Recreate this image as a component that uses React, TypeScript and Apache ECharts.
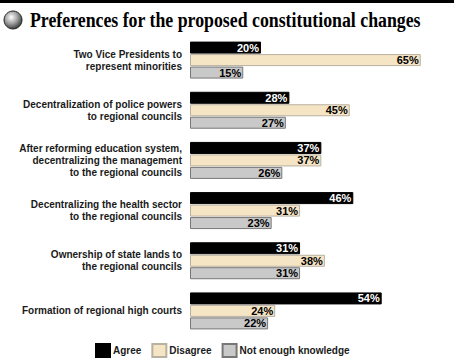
import React, { useEffect, useRef } from "react";
import * as echarts from "echarts";

const categories = [
  "Two Vice Presidents to\nrepresent minorities",
  "Decentralization of police powers\nto regional councils",
  "After reforming education system,\ndecentralizing the management\nto the regional councils",
  "Decentralizing the health sector\nto the regional councils",
  "Ownership of state lands to\nthe regional councils",
  "Formation of regional high courts",
];
const agree = [20, 28, 37, 46, 31, 54];
const disagree = [65, 45, 37, 31, 38, 24];
const notEnough = [15, 27, 26, 23, 31, 22];
const seriesNames = ["Agree", "Disagree", "Not enough knowledge"];
const titleText = "Preferences for the proposed constitutional changes";

export default function App() {
  const ref = useRef<HTMLDivElement>(null);
  useEffect(() => {
    const chart = echarts.init(ref.current!, null, { renderer: "svg" });
    const sans = "Liberation Sans, Arial, sans-serif";
    const mk = (name: string, data: number[], color: string, border: string, labelColor: string) => ({
      name,
      type: "bar",
      data,
      barWidth: 12,
      barGap: "4%",
      itemStyle: { color, borderColor: border, borderWidth: 1 },
      label: {
        show: true,
        position: "insideRight",
        distance: 2,
        formatter: "{c}%",
        color: labelColor,
        fontFamily: sans,
        fontWeight: "bold",
        fontSize: 11,
      },
    });
    chart.setOption({
      animation: false,
      backgroundColor: "#ffffff",
      grid: { left: 190, top: 35, height: 301, width: 248.5, containLabel: false },
      xAxis: { type: "value", min: 0, max: 70, show: false },
      yAxis: {
        type: "category",
        data: categories,
        inverse: true,
        axisLine: { show: false },
        axisTick: { show: false },
        axisLabel: {
          margin: 8,
          align: "right",
          fontFamily: sans,
          fontWeight: "bold",
          fontSize: 10,
          lineHeight: 12,
          color: "#1a1a1a",
        },
      },
      legend: {
        data: seriesNames,
        left: 90,
        top: 338,
        itemWidth: 14,
        itemHeight: 13,
        itemGap: 10,
        icon: "rect",
        textStyle: { fontFamily: sans, fontWeight: "bold", fontSize: 10, color: "#1a1a1a", padding: [0, 0, 0, -2] },
      },
      series: [
        mk(seriesNames[0], agree, "#000000", "#000000", "#ffffff"),
        mk(seriesNames[1], disagree, "#f6e5c5", "#b8b0a0", "#000000"),
        mk(seriesNames[2], notEnough, "#c9c9c9", "#777777", "#000000"),
      ],
      graphic: [
        { type: "rect", left: 0, top: 0, shape: { x: 0, y: 0, width: 454, height: 3 }, style: { fill: "#000" } },
        {
          type: "circle",
          shape: { cx: 13, cy: 20, r: 9 },
          style: {
            fill: new echarts.graphic.RadialGradient(0.4, 0.35, 0.7, [
              { offset: 0, color: "#ffffff" },
              { offset: 0.5, color: "#a0a0a0" },
              { offset: 1, color: "#303030" },
            ]),
            stroke: "#222",
            lineWidth: 1,
          },
        },
        {
          type: "text",
          x: 30,
          y: 20,
          scaleX: 0.89,
          style: {
            text: titleText,
            fontFamily: "Liberation Serif, Times New Roman, serif",
            fontWeight: "bold",
            fontSize: 20,
            fill: "#000",
            verticalAlign: "middle",
          },
        },
      ],
    });
    return () => chart.dispose();
  }, []);
  return <div ref={ref} style={{ width: 454, height: 358, position: "absolute", left: 0, top: 0 }} />;
}
